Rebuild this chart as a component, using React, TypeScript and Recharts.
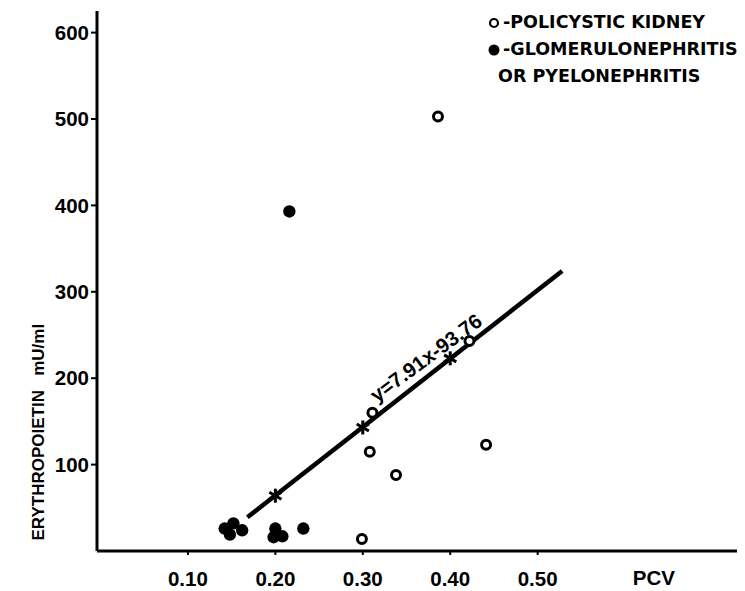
import React from 'react';
import { ScatterChart, Scatter, XAxis, YAxis, Legend, ReferenceDot } from 'recharts';

// Polycystic kidney (open circles)
const policysticPCV = [0.386, 0.422, 0.311, 0.308, 0.338, 0.441, 0.299];
const policysticEPO = [503, 243, 160, 115, 88, 123, 14];
// Glomerulonephritis or pyelonephritis (filled circles)
const glomerPCV = [0.142, 0.152, 0.162, 0.148, 0.2, 0.198, 0.208, 0.232, 0.216];
const glomerEPO = [26, 32, 24, 19, 26, 16, 17, 26, 393];
// Regression line y = 7.91x - 93.76 (endpoints and star marks)
const regressionPCV = [0.168, 0.528];
const regressionEPO = [39, 324];
const markPCV = [0.2, 0.3, 0.4];
const markEPO = [64, 143, 223];
const equationText = 'y=7.91x-93.76';
const equationAt = { x: 0.372, y: 224 };

const xTicks = [0.1, 0.2, 0.3, 0.4, 0.5];
const yTicks = [100, 200, 300, 400, 500, 600];
const legendLabels = ['-POLICYSTIC KIDNEY', '-GLOMERULONEPHRITIS', 'OR PYELONEPHRITIS'];
const yLabel = 'ERYTHROPOIETIN   mU/ml';
const xLabel = 'PCV';

const toPoints = (xs: number[], ys: number[]) => xs.map((x, i) => ({ x, y: ys[i] }));
const policysticData = toPoints(policysticPCV, policysticEPO);
const glomerData = toPoints(glomerPCV, glomerEPO);
const regressionData = toPoints(regressionPCV, regressionEPO);
const markData = toPoints(markPCV, markEPO);

const SANS = "'Liberation Sans', Arial, sans-serif";
const WIDE = "'DejaVu Sans', sans-serif";

const OpenCircle = (p: any) => (
  <circle cx={p.cx} cy={p.cy} r={4.5} fill="#fff" stroke="#000" strokeWidth={3} />
);
const FilledCircle = (p: any) => <circle cx={p.cx} cy={p.cy} r={6.2} fill="#000" />;
const Star = (p: any) => {
  const L = 7;
  const lines = [0, 60, 120].map((a) => {
    const r = (a * Math.PI) / 180;
    return (
      <line
        key={a}
        x1={p.cx - L * Math.sin(r)}
        y1={p.cy - L * Math.cos(r)}
        x2={p.cx + L * Math.sin(r)}
        y2={p.cy + L * Math.cos(r)}
        stroke="#000"
        strokeWidth={3}
      />
    );
  });
  return <g>{lines}</g>;
};
const NoShape = () => <g />;

const renderLegend = () => (
  <div style={{ fontFamily: WIDE, fontWeight: 'bold', fontSize: 17.5, color: '#000', lineHeight: '27px', whiteSpace: 'nowrap' }}>
    <div style={{ display: 'flex', alignItems: 'center' }}>
      <svg width={14} height={14} style={{ marginRight: 1 }}>
        <circle cx={6} cy={7} r={4} fill="#fff" stroke="#000" strokeWidth={2.2} />
      </svg>
      <span>{legendLabels[0]}</span>
    </div>
    <div style={{ display: 'flex', alignItems: 'center' }}>
      <svg width={14} height={14} style={{ marginRight: 1 }}>
        <circle cx={6} cy={7} r={5.5} fill="#000" />
      </svg>
      <span>{legendLabels[1]}</span>
    </div>
    <div style={{ paddingLeft: 10 }}>{legendLabels[2]}</div>
  </div>
);

const tickStyle = { fontFamily: SANS, fontSize: 20.5, fontWeight: 'bold', fill: '#000' } as any;

export default function App() {
  return (
    <div style={{ position: 'absolute', left: 0, top: 0, background: '#fff' }}>
      <ScatterChart width={745} height={591} margin={{ top: 11, right: 8, bottom: 10, left: 37 }}>
        <XAxis
          type="number"
          dataKey="x"
          domain={[-0.004, 0.728]}
          ticks={xTicks}
          tickFormatter={(v: number) => v.toFixed(2)}
          height={30}
          axisLine={{ stroke: '#000', strokeWidth: 3 }}
          tickLine={{ stroke: '#000', strokeWidth: 2 }}
          tickSize={4}
          tickMargin={16}
          tick={tickStyle}
          allowDataOverflow
          label={(props: any) => {
            const vb = props.viewBox;
            return (
              <text x={vb.x + vb.width * 0.87} y={vb.y + 34} textAnchor="middle" style={tickStyle}>
                {xLabel}
              </text>
            );
          }}
        />
        <YAxis
          type="number"
          dataKey="y"
          domain={[0, 625]}
          ticks={yTicks}
          width={60}
          axisLine={{ stroke: '#000', strokeWidth: 3 }}
          tickLine={{ stroke: '#000', strokeWidth: 2 }}
          tickSize={6}
          tickMargin={2}
          tick={tickStyle}
          allowDataOverflow
          label={(props: any) => {
            const vb = props.viewBox;
            const cx = vb.x + 2;
            const cy = vb.y + vb.height * 0.78;
            return (
              <text
                x={cx}
                y={cy}
                transform={`rotate(-90 ${cx} ${cy})`}
                textAnchor="middle"
                dominantBaseline="central"
                style={{ fontFamily: SANS, fontSize: 17, fontWeight: 'bold', fill: '#000', whiteSpace: 'pre' }}
              >
                {yLabel}
              </text>
            );
          }}
        />
        <Legend
          layout="horizontal"
          verticalAlign="middle"
          align="center"
          wrapperStyle={{ left: 488, top: 9, width: 257 }}
          content={renderLegend}
        />
        <Scatter
          name="regression"
          data={regressionData}
          line={{ stroke: '#000', strokeWidth: 4.5 }}
          shape={NoShape}
          isAnimationActive={false}
          legendType="none"
        />
        <Scatter name="marks" data={markData} shape={Star} isAnimationActive={false} legendType="none" />
        <Scatter name="policystic" data={policysticData} shape={OpenCircle} isAnimationActive={false} />
        <Scatter name="glomer" data={glomerData} shape={FilledCircle} isAnimationActive={false} />
        <ReferenceDot
          x={equationAt.x}
          y={equationAt.y}
          r={0}
          shape={(p: any) => (
            <text
              x={p.cx}
              y={p.cy}
              transform={`rotate(-36.5 ${p.cx} ${p.cy})`}
              textAnchor="middle"
              dominantBaseline="central"
              style={{ fontFamily: SANS, fontSize: 20.5, fontWeight: 'bold', fill: '#000' }}
            >
              {equationText}
            </text>
          )}
        />
      </ScatterChart>
    </div>
  );
}
